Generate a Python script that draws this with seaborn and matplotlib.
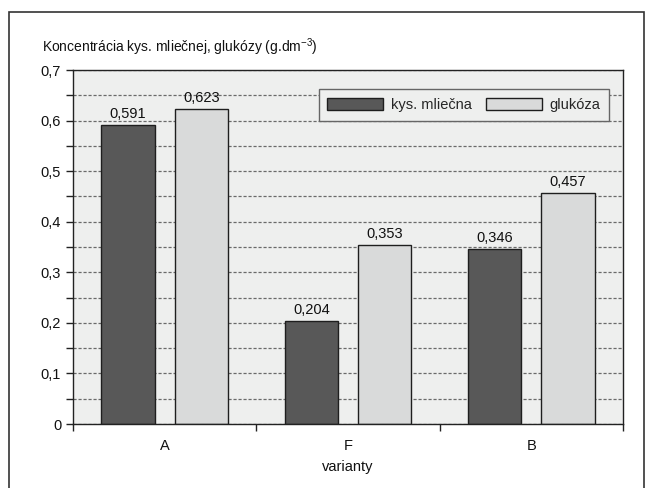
import matplotlib
matplotlib.use('Agg')
import matplotlib.pyplot as plt
from matplotlib.patches import Rectangle
from matplotlib.ticker import MultipleLocator, FixedLocator, NullFormatter
import seaborn as sns
import pandas as pd

# data
variants = ['A', 'F', 'B']
series = ['kys. mliečna', 'glukóza']
lactic_acid = [0.591, 0.204, 0.346]
glucose = [0.623, 0.353, 0.457]
y_ticks = [0, 0.1, 0.2, 0.3, 0.4, 0.5, 0.6, 0.7]
y_tick_labels = ['0', '0,1', '0,2', '0,3', '0,4', '0,5', '0,6', '0,7']

df = pd.DataFrame({
    'varianta': variants * 2,
    'seria': [series[0]] * len(variants) + [series[1]] * len(variants),
    'hodnota': lactic_acid + glucose,
})

sns.set_style('white')
plt.rcParams['font.family'] = ['Liberation Sans', 'DejaVu Sans']
plt.rcParams['mathtext.default'] = 'regular'
plt.rcParams['font.size'] = 10

fig = plt.figure(figsize=(6.49, 4.88), dpi=100)
ax = fig.add_axes([73 / 649, 1 - 424 / 488, 550 / 649, 354 / 488])
ax.set_facecolor('#eeefee')

sns.barplot(data=df, x='varianta', y='hodnota', hue='seria', order=variants,
            hue_order=series, palette=['#585858', '#d9dada'], width=0.8, gap=0.27,
            edgecolor='#1e1e1e', linewidth=1.0, ax=ax, errorbar=None)

# value labels
for cont in ax.containers:
    ax.bar_label(cont, labels=[f'{v:.3f}'.replace('.', ',') for v in cont.datavalues],
                 padding=3, fontsize=10.5, color='#111111')

# axes
ax.set_ylim(0, 0.7)
ax.set_xlim(-0.5, 2.5)
ax.yaxis.set_major_locator(FixedLocator(y_ticks))
ax.set_yticklabels(y_tick_labels)
ax.yaxis.set_minor_locator(MultipleLocator(0.05))
ax.xaxis.set_minor_locator(FixedLocator([-0.5, 0.5, 1.5, 2.5]))
ax.xaxis.set_minor_formatter(NullFormatter())
ax.tick_params(axis='x', which='major', length=0, pad=11, labelsize=10.5, labelcolor='#111111')
ax.tick_params(axis='x', which='minor', length=5, width=1, color='#222222', direction='out', bottom=True)
ax.tick_params(axis='y', which='both', length=5, width=1, color='#222222', direction='out',
               left=True, labelsize=10.5, labelcolor='#111111')

ax.set_axisbelow(True)
ax.yaxis.grid(True, which='both', linestyle=(0, (2.5, 1.5)), color='#6a6a6a', linewidth=0.9)
ax.xaxis.grid(False)
for s in ax.spines.values():
    s.set_visible(True)
    s.set_color('#222222')
    s.set_linewidth(1.0)

ax.set_xlabel('varianty', fontsize=10.5, labelpad=5, color='#111111')
ax.set_ylabel('')
fig.text(42 / 649, 1 - 52 / 488, 'Koncentrácia kys. mliečnej, glukózy (g.dm$^{-3}$)',
         fontsize=10, va='baseline', ha='left', color='#111111')

leg = ax.legend(loc='upper right', bbox_to_anchor=(0.975, 0.946), ncol=2, frameon=True,
                fancybox=False, borderaxespad=0, handlelength=3.8, handleheight=0.85,
                columnspacing=1.0, handletextpad=0.55, borderpad=0.6, fontsize=10.5, title=None)
leg.get_frame().set_edgecolor('#666666')
leg.get_frame().set_facecolor('#eeefee')
leg.get_frame().set_alpha(1)
leg.get_frame().set_linewidth(1.0)

# outer frame of the figure
fig.patches.append(Rectangle((9 / 649, -0.05), 635 / 649, 1.05 - 12 / 488,
                             transform=fig.transFigure, fill=False,
                             edgecolor='#333333', linewidth=1.2))

fig.savefig('out.png', dpi=100)
